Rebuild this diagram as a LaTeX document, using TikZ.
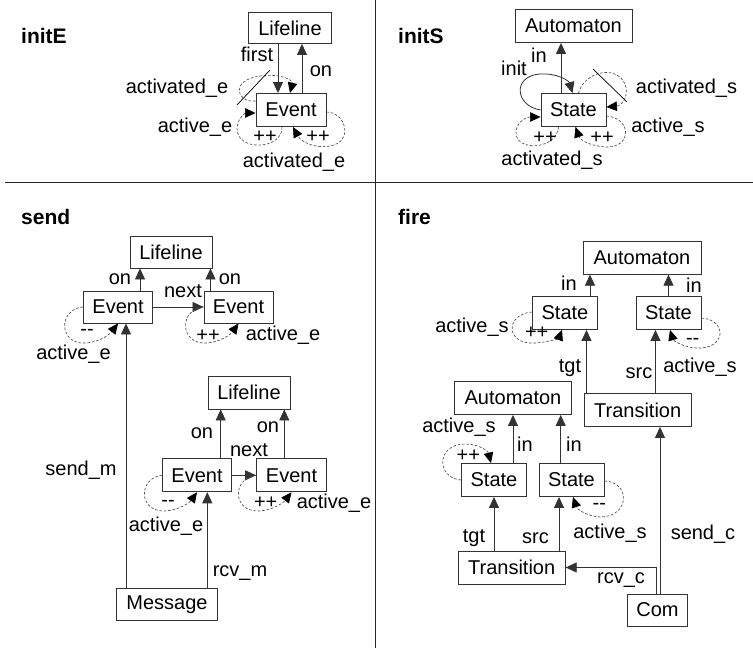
\documentclass[tikz,border=0pt]{standalone}
\usepackage{fontspec}
\setmainfont{Liberation Sans}
\usetikzlibrary{arrows.meta,calc}
\newcommand{\dmin}{-\kern0pt-}
\begin{document}
\begin{tikzpicture}[x=1pt,y=-1pt,
  every node/.style={font=\fontsize{20}{22}\selectfont, inner sep=0pt},
  box/.style={draw=black!80, line width=0.9pt, minimum height=33, fill=white},
  ttl/.style={font=\fontsize{21}{24}\selectfont\bfseries, anchor=west},
  arr/.style={-{Triangle[length=11pt,width=10pt]}, line width=0.8pt, draw=black!80},
  dl/.style={-{Triangle[length=10.5pt,width=9.5pt,color=black]}, line width=0.65pt,
    draw=black!70, dash pattern=on 2.6pt off 1.8pt},
  sl/.style={line width=0.7pt, draw=black},
  div/.style={line width=1pt, draw=black!85}
]
\useasboundingbox (0,0) rectangle (753,650);
\fill[white] (0,0) rectangle (753,650);

% panel dividers
\draw[div] (5,183) -- (753,183);
\draw[div] (375,0) -- (375,648);

% titles
\node[ttl] (tE) at (21,36) {initE};
\node[ttl] (tS) at (398,36) {initS};
\node[ttl] (tSend) at (21,217) {send};
\node[ttl] (tFire) at (398,217) {fire};

% ---------------- initE ----------------
\node[box, minimum width=83, minimum height=31] (L1) at (290,28) {Lifeline};
\node[box, minimum width=70] (E1) at (291,110) {Event};
\draw[arr] ([xshift=-12pt]L1.south) -- ([xshift=-13pt]E1.north);
\draw[arr] ([xshift=11pt]E1.north) -- ([xshift=12pt]L1.south);
\draw[dl] ($(E1.west)+(0,-9)$) .. controls (236,103) and (230,80) .. (260,76)
  .. controls (283,73) and (293,81) .. ($(E1.north)+(-1,0)$);
\draw[sl] (270,70) -- (237,105);
\draw[dl] ($(E1.south)+(-9,0)$) .. controls (283,150) and (236,152) .. (237,128)
  .. controls (238,117) and (246,113) .. ($(E1.west)+(0,3)$);
\draw[dl] ($(E1.east)+(0,2)$) .. controls (346,112) and (354,142) .. (330,146)
  .. controls (312,149) and (300,140) .. ($(E1.south)+(2,0)$);
\node (lfirst) at (257,54) {first};
\node (lonE) at (321,71) {on};
\node (lactdE) at (177,88) {activated\_e};
\node (lactE) at (195,127) {active\_e};
\node (lactdE2) at (294,162) {activated\_e};
\node (ppE1) at (265,137) {++};
\node (ppE2) at (318,137) {++};

% ---------------- initS ----------------
\node[box, minimum width=117] (A1) at (573.5,26) {Automaton};
\node[box, minimum width=65] (S1) at (573.5,110) {State};
\draw[arr] ([xshift=-12.5pt]S1.north) -- ([xshift=-12.5pt]A1.south);
\draw[arr] (S1.west) .. controls (515,106) and (512,76) .. (540,74)
  .. controls (558,73) and (569,81) .. ($(S1.north)+(-1,0)$);
\draw[dl] ($(S1.north)+(5,0)$) .. controls (584,72) and (616,64) .. (625,84)
  .. controls (630,98) and (620,106) .. ($(S1.east)+(0,-3)$);
\draw[sl] (593,69) -- (627,102);
\draw[dl] ($(S1.east)+(0,6)$) .. controls (632,118) and (632,148) .. (606,147)
  .. controls (590,146) and (580,140) .. ($(S1.south)+(2,0)$);
\draw[dl] ($(S1.south)+(-15,0)$) .. controls (557,150) and (515,152) .. (516,132)
  .. controls (517,120) and (528,117) .. ($(S1.west)+(0,7)$);
\node (linS) at (539,55) {in};
\node (linit) at (514,68) {init};
\node (lactdS) at (686.5,88) {activated\_s};
\node (lactS) at (668,127) {active\_s};
\node (lactdS2) at (552,160) {activated\_s};
\node (ppS1) at (545,138) {++};
\node (ppS2) at (602,138) {++};

% ---------------- send ----------------
\node[box, minimum width=82, minimum height=32] (L2) at (171,252) {Lifeline};
\node[box, minimum width=69, minimum height=32] (Ev1) at (118,307) {Event};
\node[box, minimum width=69, minimum height=32] (Ev2) at (238.5,307) {Event};
\draw[arr] ([xshift=22pt]Ev1.north) -- ([xshift=-31pt]L2.south);
\draw[arr] ([xshift=-28pt]Ev2.north) -- ([xshift=39.5pt]L2.south);
\draw[arr] (Ev1.east) -- (Ev2.west);
\draw[dl] (Ev1.west) .. controls (58,309) and (58,345) .. (86,343)
  .. controls (100,342) and (110,334) .. (Ev1.south);
\draw[dl] (Ev2.west) .. controls (179,309) and (179,345) .. (207,343)
  .. controls (221,342) and (231,334) .. (Ev2.south);
\node (lon1) at (120,279) {on};
\node (lon2) at (230,279) {on};
\node (lnext1) at (183,291) {next};
\node (mm1) at (87,332) {\dmin};
\node (lact1) at (73.5,354) {active\_e};
\node (pp1) at (208,336) {++};
\node (lact2) at (283,335) {active\_e};

\node[box, minimum width=82] (L3) at (249,392.5) {Lifeline};
\node[box, minimum width=69] (Ev3) at (197,475.3) {Event};
\node[box, minimum width=70] (Ev4) at (291.5,475.3) {Event};
\draw[arr] ([xshift=23.7pt]Ev3.north) -- ([xshift=-28.3pt]L3.south);
\draw[arr] ([xshift=-7.2pt]Ev4.north) -- ([xshift=35.3pt]L3.south);
\draw[arr] (Ev3.east) -- (Ev4.west);
\draw[dl] (Ev3.west) .. controls (138,478) and (138,512) .. (165,511)
  .. controls (180,510) and (190,502) .. (Ev3.south);
\draw[dl] (Ev4.west) .. controls (232,478) and (232,512) .. (259,511)
  .. controls (274,510) and (284,502) .. (Ev4.south);
\node (lon3) at (202,433) {on};
\node (lon4) at (268,427) {on};
\node (lnext2) at (249,450) {next};
\node (mm2) at (168,503) {\dmin};
\node (lact3) at (166,526) {active\_e};
\node (pp2) at (265.7,503) {++};
\node (lact4) at (334,503) {active\_e};

\node[box, minimum width=100.6, minimum height=32] (Msg) at (167,604.5) {Message};
\draw[arr] ([xshift=-41pt]Msg.north) -- ([xshift=8pt]Ev1.south);
\draw[arr] ([xshift=40.3pt]Msg.north) -- ([xshift=10.3pt]Ev3.south);
\node (lsendm) at (81,470) {send\_m};
\node (lrcvm) at (240,573) {rcv\_m};

% ---------------- fire ----------------
\node[box, minimum width=118] (A2) at (642,257.7) {Automaton};
\node[box, minimum width=65] (S2) at (565,313) {State};
\node[box, minimum width=65] (S3) at (668.5,313) {State};
\draw[arr] ([xshift=25pt]S2.north) -- ([xshift=-52pt]A2.south);
\draw[arr] (S3.north) -- ([xshift=26.5pt]A2.south);
\draw[dl] ($(S2.west)+(0,-1)$) .. controls (505,314) and (505,345) .. (535,343)
  .. controls (550,342) and (559,338) .. ($(S2.south)+(-3,0)$);
\draw[dl] ($(S3.east)+(0,5)$) .. controls (728,320) and (726,350) .. (696,348)
  .. controls (682,347) and (673,340) .. ($(S3.south)+(1.5,0)$);
\node (lin1) at (569,283) {in};
\node (lin2) at (694,285) {in};
\node (ppF1) at (536.7,333) {++};
\node (lactF1) at (472,327) {active\_s};
\node (mmF1) at (692.7,341.7) {\dmin};

\node[box, minimum width=107] (T1) at (637.7,410) {Transition};
\draw[arr] ([xshift=-51.2pt]T1.north) -- ([xshift=21.5pt]S2.south);
\draw[arr] ([xshift=17.8pt]T1.north) -- ([xshift=-13pt]S3.south);
\node (ltgt1) at (570,368) {tgt};
\node (lsrc1) at (639,373) {src};
\node (lactF2) at (700,367) {active\_s};

\node[box, minimum width=117] (A3) at (513,398) {Automaton};
\node[box, minimum width=65] (S4) at (494,480) {State};
\node[box, minimum width=65] (S5) at (571.5,480) {State};
\draw[arr] ([xshift=19pt]S4.north) -- (A3.south);
\draw[arr] ([xshift=-10.8pt]S5.north) -- ([xshift=47.7pt]A3.south);
\draw[dl] (S4.west) .. controls (436,478) and (436,444) .. (465,444)
  .. controls (479,444) and (488,451) .. ($(S4.north)+(-3,0)$);
\draw[dl] ($(S5.east)+(0,1)$) .. controls (631,482) and (630,517) .. (600,517)
  .. controls (586,516) and (577,509) .. ($(S5.south)+(1.5,0)$);
\node (lactF3) at (459,427) {active\_s};
\node (lin3) at (525,444) {in};
\node (lin4) at (574,444) {in};
\node (ppF2) at (468.3,456) {++};
\node (mmF2) at (599.3,506.7) {\dmin};
\node (lactF4) at (610,533) {active\_s};

\node[box, minimum width=107] (T2) at (511.7,567.5) {Transition};
\draw[arr] ([xshift=-17.7pt]T2.north) -- (S4.south);
\draw[arr] ([xshift=47.3pt]T2.north) -- ([xshift=-12.5pt]S5.south);
\node (ltgt2) at (474,538) {tgt};
\node (lsrc2) at (535.5,538) {src};

\node[box, minimum width=60, minimum height=32] (Com) at (657.5,610) {Com};
\draw[arr] ([xshift=2.5pt]Com.north) -- ([xshift=22.3pt]T1.south);
\draw[arr] ([xshift=-1.5pt]Com.north) |- (T2.east);
\node (lsendc) at (703,534) {send\_c};
\node (lrcvc) at (621,580) {rcv\_c};
\end{tikzpicture}
\end{document}
